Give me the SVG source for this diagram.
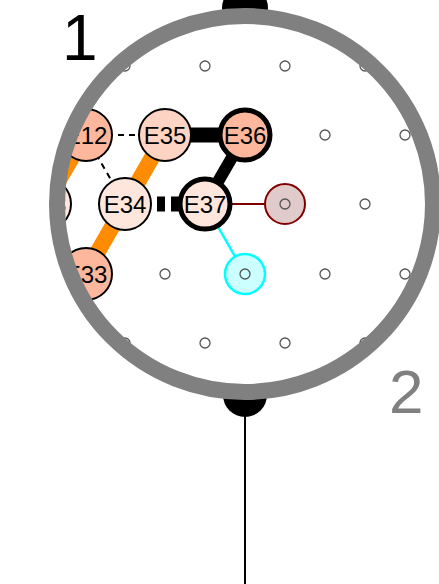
<svg xmlns="http://www.w3.org/2000/svg" width="439" height="584" viewBox="0 0 439 584">
<defs>
<clipPath id="lens"><circle cx="245" cy="204" r="188"/></clipPath>
<style>
.grid{fill:#fff;stroke:#555;stroke-width:1.3}
.node{stroke:#000;stroke-width:2}
.bold{stroke:#000;stroke-width:5}
.lbl{font-family:"Liberation Sans",Arial,sans-serif;font-size:24px;text-anchor:middle;fill:#000}
.dark{fill:#fcb79c}
.mid{fill:#fdd4c3}
.light{fill:#fee6dd}
</style>
</defs>
<rect width="439" height="584" fill="#fff"/>
<line x1="245" y1="400" x2="245" y2="584" stroke="#000" stroke-width="2"/>
<circle cx="245" cy="8" r="23" fill="#000"/>
<circle cx="245" cy="395" r="22" fill="#000"/>
<circle cx="245" cy="204" r="188" fill="#fff"/>
<g clip-path="url(#lens)">
<g id="grid">
<circle class="grid" cx="125" cy="66" r="5"/>
<circle class="grid" cx="205" cy="66" r="5"/>
<circle class="grid" cx="285" cy="66" r="5"/>
<circle class="grid" cx="365" cy="66" r="5"/>
<circle class="grid" cx="325" cy="135" r="5"/>
<circle class="grid" cx="405" cy="135" r="5"/>
<circle class="grid" cx="365" cy="204" r="5"/>
<circle class="grid" cx="165" cy="274" r="5"/>
<circle class="grid" cx="325" cy="274" r="5"/>
<circle class="grid" cx="405" cy="274" r="5"/>
<circle class="grid" cx="125" cy="343" r="5"/>
<circle class="grid" cx="205" cy="343" r="5"/>
<circle class="grid" cx="285" cy="343" r="5"/>
<circle class="grid" cx="365" cy="343" r="5"/>
</g>
<g id="connectors">
<line x1="85" y1="135" x2="45" y2="204" stroke="#ff8c00" stroke-width="16"/>
<line x1="165" y1="135" x2="85" y2="274" stroke="#ff8c00" stroke-width="16"/>
<line x1="85" y1="135" x2="165" y2="135" stroke="#000" stroke-width="2" stroke-dasharray="6,5"/>
<line x1="85" y1="135" x2="125" y2="204" stroke="#000" stroke-width="2" stroke-dasharray="6,5"/>
<line x1="165" y1="135" x2="245" y2="135" stroke="#000" stroke-width="15"/>
<line x1="245" y1="135" x2="205" y2="204" stroke="#000" stroke-width="12"/>
<line x1="151" y1="204" x2="180" y2="204" stroke="#000" stroke-width="15" stroke-dasharray="0,6,8,6,10"/>
<line x1="205" y1="204" x2="285" y2="204" stroke="#800000" stroke-width="2"/>
<line x1="205" y1="204" x2="245" y2="274" stroke="#00ffff" stroke-width="2.5"/>
</g>
<g id="n-left"><circle class="node light" cx="45" cy="204" r="26"/><text class="lbl" x="45" y="213">E13</text></g>
<g id="E12"><circle class="node dark" cx="86" cy="135" r="26"/><text class="lbl" x="86" y="144">E12</text></g>
<g id="E35"><circle class="node mid" cx="165" cy="135" r="26"/><text class="lbl" x="165" y="144">E35</text></g>
<g id="E36"><circle class="bold dark" cx="245" cy="135" r="25"/><text class="lbl" x="245" y="144">E36</text></g>
<g id="E34"><circle class="node light" cx="125" cy="204" r="26"/><text class="lbl" x="125" y="213">E34</text></g>
<g id="E37"><circle class="bold light" cx="205" cy="204" r="25"/><text class="lbl" x="205" y="213">E37</text></g>
<g id="E33"><circle class="node dark" cx="86" cy="274" r="26"/><text class="lbl" x="86" y="283">E33</text></g>
<g id="brown"><circle cx="285" cy="204" r="20" fill="#e0caca" stroke="#800000" stroke-width="2"/><circle class="grid" cx="285" cy="204" r="5" style="fill:none"/></g>
<g id="cyan"><circle cx="245" cy="274" r="20" fill="#ccffff" stroke="#00ffff" stroke-width="2.5"/><circle class="grid" cx="245" cy="274" r="5" style="fill:none"/></g>
</g>
<circle cx="245" cy="204" r="188" fill="none" stroke="#808080" stroke-width="16"/>
<text x="62" y="60" font-family="Liberation Sans, Arial, sans-serif" font-size="64" fill="#000">1</text>
<text x="389" y="413" font-family="Liberation Sans, Arial, sans-serif" font-size="62" fill="#808080">2</text>
</svg>
